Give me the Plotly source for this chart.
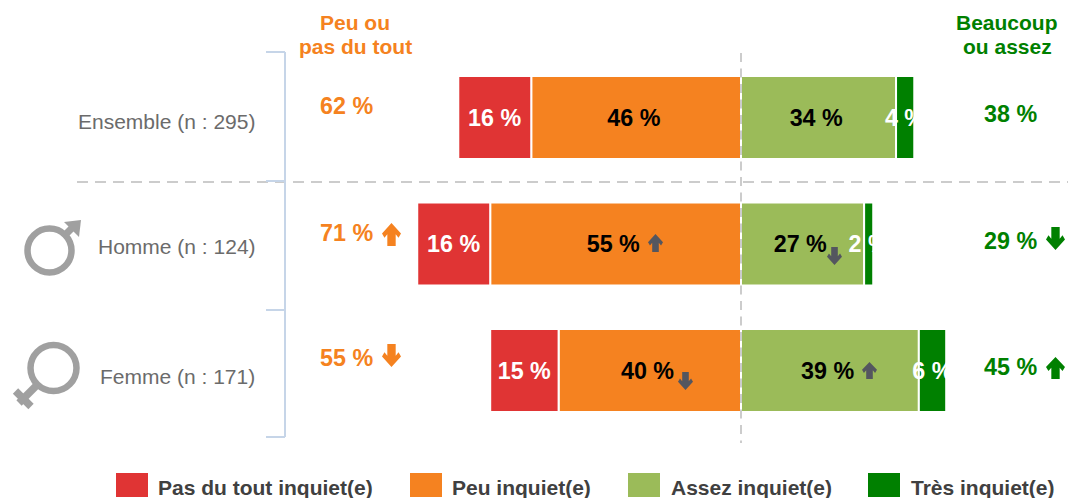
import plotly.graph_objects as go

W, H = 1068, 498

# ---- data ----
categories = ["Ensemble (n : 295)", "Homme (n : 124)", "Femme (n : 171)"]
pas_du_tout = [16, 16, 15]
peu = [46, 55, 40]
assez = [34, 27, 39]
tres = [4, 2, 6]
total_peu_ou_pas = [62, 71, 55]
total_beaucoup = [38, 29, 45]
legend_labels = ["Pas du tout inquiet(e)", "Peu inquiet(e)", "Assez inquiet(e)", "Très inquiet(e)"]
header_left = ["Peu ou", "pas du tout"]
header_right = ["Beaucoup", "ou assez"]

# ---- styles ----
RED, ORANGE, LGREEN, GREEN = "#E03434", "#F58220", "#9BBB59", "#008000"
GREY_ARROW = "#54565F"
SYMBOL = "#A0A0A0"
BRACKET = "#C6D5E8"
DASH = "#CCCCCC"
FONT = "Liberation Sans"
BAR_PX = 83
STEP_PX = 126.5
PX_PER_UNIT = 4.56
X0_PX = 741
Y0_PX = 117.5


def pct(v, suffix=""):
    return [f"{x} %{suffix}" for x in v]


def neg(v):
    return [-x for x in v]


def bar(name, x, text, color, txt):
    return go.Bar(
        name=name, y=categories, x=x, orientation="h", width=BAR_PX / STEP_PX,
        text=text, textposition="inside", insidetextanchor="middle", textangle=0,
        constraintext="none", cliponaxis=False,
        textfont=dict(family=FONT, size=23.3, color=txt, weight="bold"),
        marker=dict(color=color, line=dict(color="white", width=2)),
        showlegend=False, hoverinfo="skip",
    )


fig = go.Figure()
fig.add_trace(bar(legend_labels[1], neg(peu), pct(peu, "\u2009"), ORANGE, "black"))
fig.add_trace(bar(legend_labels[0], neg(pas_du_tout), pct(pas_du_tout), RED, "white"))
fig.add_trace(bar(legend_labels[2], assez, pct(assez, "\u2009"), LGREEN, "black"))
fig.add_trace(bar(legend_labels[3], tres, pct(tres), GREEN, "white"))


def px(x):
    return x / W


def py(y):
    return 1 - y / H


shapes = []


def line(x0, y0, x1, y1, color, width, dash="solid", layer="above"):
    shapes.append(dict(type="line", xref="paper", yref="paper", x0=px(x0), x1=px(x1),
                       y0=py(y0), y1=py(y1), layer=layer,
                       line=dict(color=color, width=width, dash=dash)))


def rect(x0, y0, x1, y1, color):
    shapes.append(dict(type="rect", xref="paper", yref="paper", x0=px(x0), x1=px(x1),
                       y0=py(y0), y1=py(y1), fillcolor=color, line=dict(width=0), layer="above"))


def poly(points, color):
    d = "M " + " L ".join(f"{px(a):.5f},{py(b):.5f}" for a, b in points) + " Z"
    shapes.append(dict(type="path", xref="paper", yref="paper", path=d, fillcolor=color,
                       line=dict(width=0), layer="above"))


def ring(cx, cy, r, width, color):
    shapes.append(dict(type="circle", xref="paper", yref="paper", x0=px(cx - r), x1=px(cx + r),
                       y0=py(cy - r), y1=py(cy + r), fillcolor="rgba(0,0,0,0)",
                       line=dict(color=color, width=width), layer="above"))


def arrow(cx, top, bottom, w, up, color):
    h = bottom - top
    outline = [(0, 0), (0.5, 0.46), (0.37, 0.64), (0.22, 0.49), (0.22, 1),
               (-0.22, 1), (-0.22, 0.49), (-0.37, 0.64), (-0.5, 0.46)]
    pts = []
    for a, b in outline:
        yy = top + b * h if up else bottom - b * h
        pts.append((cx + a * w, yy))
    poly(pts, color)


# white covers that clip the overflowing labels of the thin end segments
for i, t in enumerate(total_beaucoup):
    y_c = Y0_PX + STEP_PX * i
    shapes.append(dict(type="rect", xref="x", yref="paper", x0=t, x1=t + 8,
                       y0=py(y_c + 30), y1=py(y_c - 30), fillcolor="white",
                       line=dict(width=0), layer="above"))

# dashed guides
line(741, 53, 741, 443, DASH, 2, "9px,6.5px")
line(77, 182, W, 182, DASH, 2, "11px,7px")

# bracket
line(285, 52, 285, 437, BRACKET, 2)
for yy in (52, 181, 310, 437):
    line(266, yy, 285, yy, BRACKET, 2)

# male symbol
ring(49.5, 250.5, 22, 6.5, SYMBOL)
line(64, 236, 74, 226, SYMBOL, 7)
poly([(64, 222), (81, 220), (79, 237)], SYMBOL)

# female symbol
ring(53.5, 368, 23, 6.5, SYMBOL)
line(37, 385, 19, 403, SYMBOL, 7.5)
line(15.5, 391, 31, 406.5, SYMBOL, 7.5)

# trend arrows
arrow(391.5, 223, 246, 19, True, ORANGE)
arrow(391.5, 344, 367, 19, False, ORANGE)
arrow(1055.5, 227, 250, 19, False, GREEN)
arrow(1055.5, 357, 379, 19, True, GREEN)
arrow(655.5, 234, 252, 15, True, GREY_ARROW)
arrow(685.5, 372, 390, 15, False, GREY_ARROW)
arrow(834.5, 247, 265, 15, False, GREY_ARROW)
arrow(869.5, 362, 379, 15, True, GREY_ARROW)

# legend swatches
legend_x = [116, 410, 628, 868]
legend_c = [RED, ORANGE, LGREEN, GREEN]
for lx, c in zip(legend_x, legend_c):
    rect(lx, 473, lx + 32, 497, c)

annotations = []


def note(x, y, text, color, size, bold=False, anchor="center"):
    annotations.append(dict(
        xref="paper", yref="paper", x=px(x), y=py(y), text=text, showarrow=False,
        xanchor=anchor, yanchor="middle", borderpad=0,
        font=dict(family=FONT, size=size, color=color, weight="bold" if bold else "normal"),
    ))


label_x = [256, 257, 256]
for i, c in enumerate(categories):
    note(label_x[i], [122, 247, 376][i], c, "#6B6B6B", 21, anchor="right")
    note(346.5, [106, 233, 358][i], f"{total_peu_ou_pas[i]} %", ORANGE, 23.3, True)
    note(1010.5, [114, 241, 367][i], f"{total_beaucoup[i]} %", GREEN, 23.3, True)

note(355, 22.5, header_left[0], ORANGE, 21, True)
note(355, 46.5, header_left[1], ORANGE, 21, True)
note(1007, 22.5, header_right[0], GREEN, 21, True)
note(1007, 46.5, header_right[1], GREEN, 21, True)

legend_tx = [157, 451, 670, 910]
for tx, lab in zip(legend_tx, legend_labels):
    note(tx, 487, lab, "#404040", 21, True, anchor="left")

fig.update_layout(
    width=W, height=H, margin=dict(l=0, r=0, t=0, b=0, pad=0, autoexpand=False),
    barmode="relative", paper_bgcolor="white", plot_bgcolor="white",
    xaxis=dict(range=[-X0_PX / PX_PER_UNIT, (W - X0_PX) / PX_PER_UNIT], visible=False, fixedrange=True),
    yaxis=dict(categoryorder="array", categoryarray=categories,
               range=[(H - Y0_PX) / STEP_PX, -Y0_PX / STEP_PX], visible=False, fixedrange=True),
    shapes=shapes, annotations=annotations, showlegend=False, font=dict(family=FONT),
)

fig.write_html("out.html", config=dict(displayModeBar=False),
               post_script="document.body.style.margin='0';document.documentElement.style.overflow='hidden';")
